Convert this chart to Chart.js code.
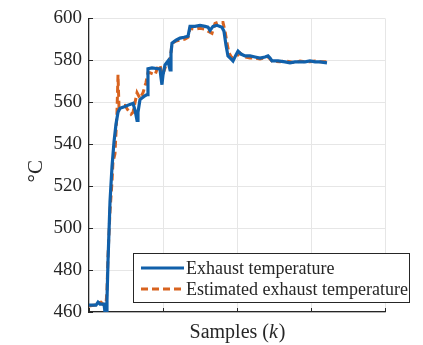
<!DOCTYPE html>
<html><head><meta charset="utf-8">
<script src="https://cdn.jsdelivr.net/npm/chart.js@4.4.1/dist/chart.umd.min.js"></script>
<style>html,body{margin:0;padding:0;background:#fff}#wrap{width:423px;height:345px;position:relative}</style>
</head><body><div id="wrap"><canvas id="c" width="423" height="345"></canvas></div>
<script>
const seriesNames = ['Exhaust temperature', 'Estimated exhaust temperature'];
const measuredK = [0,9.5,12.2,14.9,20.3,21.6,23,24.3,25.7,28.4,31.1,33.8,36.5,39.2,41.9,48.6,55.4,59.5,62.2,64.9,66.2,68.9,74.3,78.4,79.7,85.1,93.2,95.9,97.3,98.6,100,102.7,106.8,109.5,110.8,112.2,117.6,123,128.4,133.8,136.5,143.2,150,156.8,160.8,163.5,167.6,173,179.7,182.4,185.1,187.8,191.9,194.6,198.6,201.4,205.4,210.8,217.6,224.3,231.1,237.8,241.9,244.6,247.3,255.4,264.9,271.6,278.4,285.1,291.9,298.6,305.4,312.2,321.6];
const measuredT = [463.3,463.3,464.7,463.8,463.8,460,460,465.6,484.5,512.8,529.3,541.1,549.6,555.2,557.1,558.0,559.0,559.5,556.2,551.4,555.2,561.3,562.8,563.7,576.0,576.4,576.0,576.0,571.7,568.4,573.1,577.8,579.7,575.5,583.5,588.2,589.6,590.6,591.0,591.5,596.2,596.2,596.7,596.2,595.8,594.3,596.2,596.7,595.8,593.9,587.3,582.1,580.7,579.7,582.6,584.4,583.0,582.1,582.1,581.6,581.1,581.6,582.1,581.1,579.7,579.7,579.3,578.8,579.3,579.3,579.3,579.7,579.3,579.3,578.8];
const estimatedK = [0,8.1,12.2,16.2,20.3,23,24.3,25.7,28.4,31.1,32.4,35.1,36.5,37.8,39.2,40.5,41.9,48.6,52.7,56.8,59.5,62.2,64.9,66.2,68.9,73.0,77.0,79.7,82.4,89.2,93.2,95.9,98.6,101.4,104.1,106.8,109.5,112.2,117.6,123,129.7,133.8,136.5,143.2,150,156.8,160.8,166.2,170.3,174.3,181.1,183.8,186.5,189.2,193.2,198.6,204.1,210.8,217.6,224.3,231.1,237.8,241.9,244.6,247.3,258.1,264.9,271.6,278.4,285.1,291.9,298.6,305.4,312.2,321.6];
const estimatedT = [462.8,463.3,464.2,464.7,463.3,463.8,470.4,486.9,508.1,522.2,531.6,535.4,545.8,555.2,573.1,558.0,558.0,558.5,556.2,554.3,555.2,559.9,564.6,563.7,561.8,564.6,569.4,574.1,574.1,573.1,576.9,577.8,573.1,575.0,577.8,578.8,579.7,588.2,589.2,589.6,590.1,591.0,595.3,594.8,595.3,594.8,593.9,592.9,597.6,598.1,598.1,593.9,588.2,583.5,581.1,581.6,583.5,581.6,581.1,581.1,580.7,581.1,581.6,580.7,579.7,579.3,579.7,579.3,578.8,579.7,579.3,579.3,579.7,579.3,579.3];
const yTickValues = [460,480,500,520,540,560,580,600];
const xTickValues = [0,100,200,300,400];
const xTitleParts = ['Samples (', 'k', ')'];
const yTitle = '°C';

const BLUE = '#1160aa', ORANGE = '#d8631f', AXIS = '#262626', SERIF = '"Liberation Serif", "DejaVu Serif", serif';
const toPts = (ks, vs) => ks.map((k, i) => ({x: k, y: vs[i]}));

const extras = {
  id: 'extras',
  afterDraw(chart) {
    const ctx = chart.ctx, xs = chart.scales.x, ys = chart.scales.y, a = chart.chartArea;
    ctx.save();
    ctx.strokeStyle = AXIS; ctx.lineWidth = 1;
    yTickValues.forEach(v => { const p = Math.round(ys.getPixelForValue(v)) + 0.5; ctx.beginPath(); ctx.moveTo(a.left, p); ctx.lineTo(a.left + 4, p); ctx.stroke(); });
    xTickValues.forEach(v => { const p = Math.round(xs.getPixelForValue(v)) + 0.5; ctx.beginPath(); ctx.moveTo(p, a.bottom); ctx.lineTo(p, a.bottom - 4); ctx.stroke(); });
    ctx.fillStyle = AXIS; ctx.textBaseline = 'alphabetic';
    const fN = '20px ' + SERIF, fI = 'italic 20px ' + SERIF;
    ctx.font = fN; const w0 = ctx.measureText(xTitleParts[0]).width, w2 = ctx.measureText(xTitleParts[2]).width;
    ctx.font = fI; const w1 = ctx.measureText(xTitleParts[1]).width;
    let x = (a.left + a.right) / 2 - (w0 + w1 + w2) / 2; const by = 338;
    ctx.textAlign = 'left';
    ctx.font = fN; ctx.fillText(xTitleParts[0], x, by); x += w0;
    ctx.font = fI; ctx.fillText(xTitleParts[1], x, by); x += w1 + 1;
    ctx.font = fN; ctx.fillText(xTitleParts[2], x, by);
    ctx.save(); ctx.translate(42, (a.top + a.bottom) / 2 + 6); ctx.rotate(-Math.PI / 2);
    ctx.textAlign = 'center'; ctx.textBaseline = 'alphabetic'; ctx.font = '21px ' + SERIF; ctx.fillText(yTitle, 0, 0); ctx.restore();
    const L = 133, T = 253, R = 410, B = 303;
    ctx.fillStyle = '#fff'; ctx.fillRect(L, T, R - L, B - T);
    ctx.strokeStyle = AXIS; ctx.lineWidth = 1; ctx.strokeRect(L + 0.5, T + 0.5, R - L - 1, B - T - 1);
    const rows = [{y: 268, c: BLUE, d: []}, {y: 289, c: ORANGE, d: [7, 4]}];
    rows.forEach((r, i) => {
      ctx.strokeStyle = r.c; ctx.lineWidth = 3; ctx.setLineDash(r.d);
      ctx.beginPath(); ctx.moveTo(141, r.y); ctx.lineTo(184, r.y); ctx.stroke(); ctx.setLineDash([]);
      ctx.fillStyle = AXIS; ctx.font = '18px ' + SERIF; ctx.textAlign = 'left'; ctx.textBaseline = 'middle';
      ctx.fillText(seriesNames[i], 186, r.y + 1);
    });
    ctx.restore();
  }
};

new Chart(document.getElementById('c'), {
  type: 'line',
  data: { datasets: [
    { label: seriesNames[0], data: toPts(measuredK, measuredT), borderColor: BLUE, borderWidth: 3.2, pointRadius: 0, tension: 0, fill: false },
    { label: seriesNames[1], data: toPts(estimatedK, estimatedT), borderColor: ORANGE, borderWidth: 3, borderDash: [7, 4], pointRadius: 0, tension: 0, fill: false }
  ]},
  options: {
    responsive: false, animation: false, devicePixelRatio: 1,
    layout: { padding: { top: 15, right: 38, left: 0, bottom: 0 } },
    plugins: { legend: { display: false }, tooltip: { enabled: false } },
    scales: {
      x: { type: 'linear', min: 0, max: 400,
        afterBuildTicks: s => { s.ticks = xTickValues.map(v => ({value: v})); },
        afterFit: s => { s.height = 33; },
        ticks: { display: false },
        grid: { color: '#e6e6e6', lineWidth: 1, drawTicks: false },
        border: { color: AXIS, width: 1.2 } },
      y: { min: 460, max: 600,
        afterBuildTicks: s => { s.ticks = yTickValues.map(v => ({value: v})); },
        afterFit: s => { s.width = 89; },
        ticks: { padding: 7, color: AXIS, font: { family: SERIF, size: 19 } },
        grid: { color: '#e6e6e6', lineWidth: 1, drawTicks: false },
        border: { color: AXIS, width: 1.2 } }
    }
  },
  plugins: [extras]
});
</script></body></html>
